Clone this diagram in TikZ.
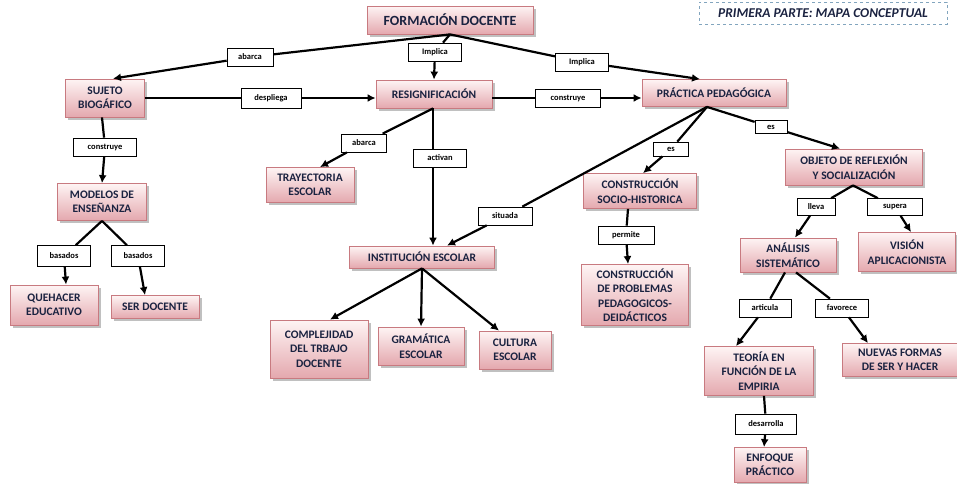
\documentclass[tikz,border=0pt]{standalone}
\usepackage{fontspec}
\setmainfont{Carlito}
\usetikzlibrary{shapes, arrows.meta, positioning, shadows}
\definecolor{conceptfill}{RGB}{228,168,174}
\definecolor{concepttop}{RGB}{254,244,244}
\definecolor{conceptline}{RGB}{200,122,128}
\definecolor{navy}{RGB}{26,34,64}
\definecolor{titleline}{RGB}{130,165,190}
\tikzstyle{concept}=[draw=conceptline,line width=0.8pt,top color=concepttop,bottom color=conceptfill,
  drop shadow={shadow xshift=2.5pt,shadow yshift=-2.5pt,fill=black!45,opacity=.55},
  align=center,text=navy,inner sep=1pt,font=\fontsize{11.5}{14.5}\selectfont\bfseries]
\tikzstyle{link}=[draw,fill=white,rectangle,line width=0.7pt,inner sep=1pt,minimum height=18pt,
  font=\fontsize{8.5}{10}\selectfont\bfseries]
\tikzstyle{every node}=[font=\small]

\begin{document}
\begin{tikzpicture}[x=1pt,y=1pt,>={Latex[length=8pt,width=8pt]},line width=2.2pt]
    \useasboundingbox (0,0) rectangle (957,-483);
    \node[draw=titleline,dashed,line width=0.8pt,minimum width=248pt,minimum height=22pt,text=navy,
      font=\fontsize{13.5}{15}\selectfont\bfseries\itshape] (title) at (823,-13) {PRIMERA PARTE: MAPA CONCEPTUAL};

    \node[concept,minimum width=166pt,minimum height=28pt,font=\fontsize{14}{16}\selectfont\bfseries] (fd) at (450,-20) {FORMACIÓN DOCENTE};
    \node[concept,minimum width=79pt,minimum height=38pt] (sb) at (105,-98) {SUJETO\\BIOGÁFICO};
    \node[concept,minimum width=116pt,minimum height=28pt] (res) at (434,-94) {RESIGNIFICACIÓN};
    \node[concept,minimum width=144pt,minimum height=27pt] (pp) at (714,-93) {PRÁCTICA PEDAGÓGICA};
    \node[concept,minimum width=89pt,minimum height=37pt] (mod) at (102,-202) {MODELOS DE\\ENSEÑANZA};
    \node[concept,minimum width=88pt,minimum height=35pt] (tray) at (310,-185) {TRAYECTORIA\\ESCOLAR};
    \node[concept,minimum width=145pt,minimum height=22pt] (inst) at (422,-257) {INSTITUCIÓN ESCOLAR};
    \node[concept,minimum width=88pt,minimum height=40pt] (queh) at (54,-305) {QUEHACER\\EDUCATIVO};
    \node[concept,minimum width=88pt,minimum height=23pt] (ser) at (155,-307) {SER DOCENTE};
    \node[concept,minimum width=98pt,minimum height=58pt] (comp) at (319,-349) {COMPLEJIDAD\\DEL TRBAJO\\DOCENTE};
    \node[concept,minimum width=86pt,minimum height=38pt] (gram) at (421,-346) {GRAMÁTICA\\ESCOLAR};
    \node[concept,minimum width=72pt,minimum height=38pt] (cult) at (515,-350) {CULTURA\\ESCOLAR};
    \node[concept,minimum width=113pt,minimum height=35pt] (csh) at (640,-191) {CONSTRUCCIÓN\\SOCIO-HISTORICA};
    \node[concept,minimum width=107pt,minimum height=61pt] (cpp) at (635,-295) {CONSTRUCCIÓN\\DE PROBLEMAS\\PEDAGOGICOS-\\DEIDÁCTICOS};
    \node[concept,minimum width=137pt,minimum height=36pt] (obj) at (854,-167) {OBJETO DE REFLEXIÓN\\Y SOCIALIZACIÓN};
    \node[concept,minimum width=96pt,minimum height=34pt] (ana) at (788,-255) {ANÁLISIS\\SISTEMÁTICO};
    \node[concept,minimum width=97pt,minimum height=39pt] (vis) at (907,-252) {VISIÓN\\APLICACIONISTA};
    \node[concept,minimum width=109pt,minimum height=49pt] (teo) at (759,-371) {TEORÍA EN\\FUNCIÓN DE LA\\EMPIRIA};
    \node[concept,minimum width=115pt,minimum height=33pt] (nue) at (900,-360) {NUEVAS FORMAS\\DE SER Y HACER};
    \node[concept,minimum width=72pt,minimum height=35pt] (enf) at (770,-465) {ENFOQUE\\PRÁCTICO};

    \node[link,minimum width=46pt] (abarca1) at (250,-57) {abarca};
    \node[link,minimum width=53pt] (implica1) at (435,-52) {Implica};
    \node[link,minimum width=53pt] (implica2) at (582,-62) {Implica};
    \node[link,minimum width=60pt,minimum height=20pt] (despliega) at (271,-98) {despliega};
    \node[link,minimum width=65pt] (construye1) at (568,-98) {construye};
    \node[link,minimum width=63pt] (construye2) at (105,-147) {construye};
    \node[link,minimum width=45pt] (abarca2) at (364,-143) {abarca};
    \node[link,minimum width=53pt,minimum height=21pt] (basados1) at (64,-256) {basados};
    \node[link,minimum width=53pt,minimum height=21pt] (basados2) at (138,-256) {basados};
    \node[link,minimum width=54pt] (situada) at (505,-216) {situada};
    \node[link,minimum width=35pt,minimum height=14pt] (es1) at (671,-149) {es};
    \node[link,minimum width=32pt,minimum height=13pt] (es2) at (771,-127) {es};
    \node[link,minimum width=56pt] (permite) at (626,-235) {permite};
    \node[link,minimum width=38pt,minimum height=17pt] (lleva) at (816,-207) {lleva};
    \node[link,minimum width=55pt,minimum height=17pt] (supera) at (895,-207) {supera};
    \node[link,minimum width=52pt] (articula) at (765,-308) {articula};
    \node[link,minimum width=53pt] (favorece) at (842,-308) {favorece};
    \node[link,minimum width=61pt,minimum height=20pt] (desarrolla) at (766,-424) {desarrolla};

    \draw (fd.south) -- (abarca1);
    \draw[->] (abarca1) -- ([xshift=8pt]sb.north);
    \draw (fd.south) -- (implica1);
    \draw[->] (implica1) -- (res.north);
    \draw (fd.south) -- (implica2);
    \draw[->] (implica2) -- ([xshift=-14pt]pp.north);
    \draw (sb.east |- despliega) -- (despliega);
    \draw[->] (despliega) -- (res.west |- despliega);
    \draw (res.east |- construye1) -- (construye1);
    \draw[->] (construye1) -- (pp.west |- construye1);
    \draw ([xshift=-3pt]sb.south) -- (construye2);
    \draw[->] (construye2) -- (mod.north);
    \draw ([xshift=-1pt]res.south) -- (abarca2);
    \draw[->] (abarca2) -- ([xshift=10pt]tray.north);
    \draw[->] ([xshift=-1pt]res.south) -- ([xshift=11pt]inst.north);
    \node[link,minimum width=53pt] (activan) at (440,-158) {activan};
    \draw ([xshift=-7pt]pp.south) -- (situada);
    \draw[->] (situada) -- ([xshift=25pt]inst.north);
    \draw ([xshift=-7pt]pp.south) -- (es1);
    \draw[->] (es1) -- ([xshift=3pt]csh.north);
    \draw ([xshift=-7pt]pp.south) -- (es2);
    \draw[->] (es2) -- ([xshift=-14pt]obj.north);
    \draw ([xshift=-12pt]csh.south) -- (permite);
    \draw[->] (permite) -- ([xshift=-7pt]cpp.north);
    \draw (mod.south) -- (basados1);
    \draw[->] (basados1) -- ([xshift=12pt]queh.north);
    \draw (mod.south) -- (basados2);
    \draw[->] (basados2) -- ([xshift=-10pt]ser.north);
    \draw[->] (inst.south) -- ([xshift=11pt]comp.north);
    \draw[->] (inst.south) -- (gram.north);
    \draw[->] (inst.south) -- ([xshift=-16pt]cult.north);
    \draw ([xshift=-1pt]obj.south) -- (lleva);
    \draw[->] (lleva) -- ([xshift=7pt]ana.north);
    \draw ([xshift=-1pt]obj.south) -- (supera);
    \draw[->] (supera) -- ([xshift=4pt]vis.north);
    \draw ([xshift=-3pt]ana.south) -- (articula);
    \draw[->] (articula) -- ([xshift=-23pt]teo.north);
    \draw ([xshift=8pt]ana.south) -- (favorece);
    \draw[->] (favorece) -- ([xshift=-32pt]nue.north);
    \draw ([xshift=5pt]teo.south) -- (desarrolla);
    \draw[->] (desarrolla) -- ([xshift=-6pt]enf.north);
\end{tikzpicture}
\end{document}
